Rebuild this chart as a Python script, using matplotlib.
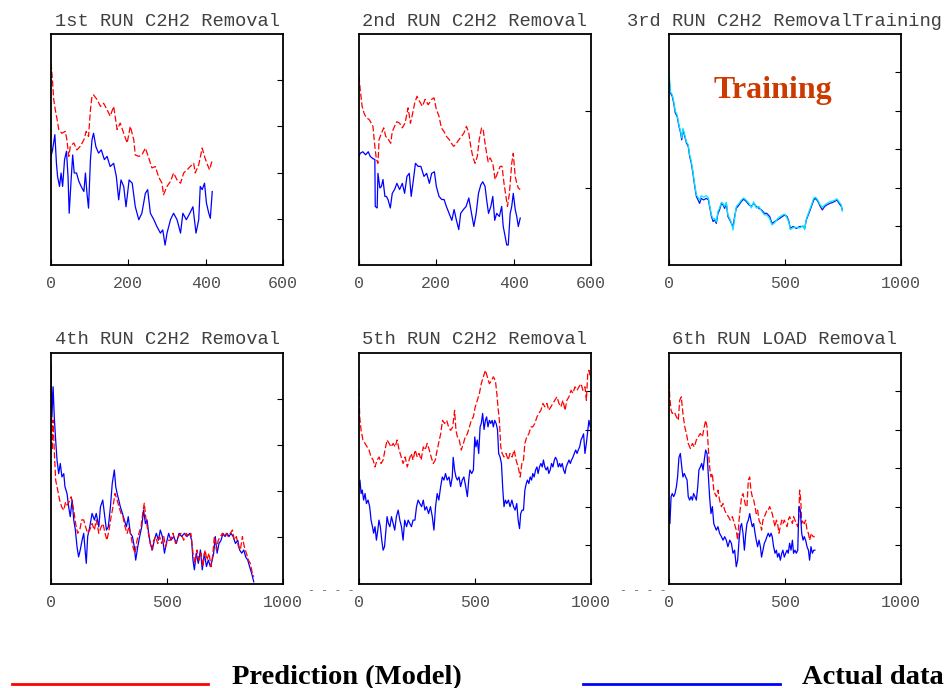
import matplotlib
matplotlib.use("Agg")
import matplotlib.pyplot as plt
from matplotlib.lines import Line2D

# values, (x, y) pairs
run1_pred = [(0, 4.37), (3, 4.08), (7, 3.58), (11, 3.36), (16, 3.14), (20, 2.93), (28, 2.85), (37, 2.89),
             (41, 2.71), (46, 2.35), (50, 2.57), (59, 2.64), (67, 2.49), (76, 2.57), (85, 2.71), (91, 2.89),
             (97, 2.78), (102, 3.36), (106, 3.65), (110, 3.68), (119, 3.58), (128, 3.43), (136, 3.50),
             (145, 3.36), (153, 3.22), (162, 3.43), (171, 2.93), (179, 3.07), (188, 2.85), (197, 2.64),
             (205, 3.00), (214, 2.71), (218, 2.38), (227, 2.35), (235, 2.38), (244, 2.53), (253, 2.31),
             (261, 2.10), (270, 2.13), (278, 1.91), (287, 1.77), (291, 1.52), (300, 1.70), (309, 1.81),
             (317, 1.99), (326, 1.84), (335, 1.77), (343, 1.99), (352, 2.06), (360, 2.13), (369, 2.20),
             (373, 1.99), (382, 2.17), (391, 2.53), (397, 2.35), (403, 2.20), (410, 2.06), (416, 2.24)]
run1_act = [(0, 2.35), (4, 2.49), (10, 2.82), (14, 2.20), (17, 1.91), (22, 1.70), (26, 1.99), (30, 1.70),
            (35, 2.28), (40, 2.46), (44, 1.91), (47, 1.12), (52, 1.84), (56, 2.38), (60, 1.99), (66, 1.99),
            (72, 1.81), (78, 1.70), (85, 1.59), (89, 1.99), (93, 1.55), (97, 1.23), (102, 2.28), (106, 2.71),
            (110, 2.85), (116, 2.56), (123, 2.42), (130, 2.49), (138, 2.28), (145, 2.35), (153, 2.13),
            (162, 2.20), (169, 1.91), (175, 1.41), (181, 1.84), (188, 1.70), (194, 1.26), (202, 1.84),
            (210, 1.77), (218, 1.26), (227, 0.98), (235, 1.12), (244, 1.55), (250, 1.63), (257, 1.12),
            (266, 0.98), (274, 0.83), (283, 0.69), (289, 0.76), (295, 0.43), (300, 0.69), (309, 0.98),
            (317, 1.12), (326, 0.98), (335, 0.69), (341, 1.12), (350, 0.98), (359, 1.12), (367, 1.26),
            (375, 0.69), (382, 0.98), (386, 1.70), (391, 1.63), (397, 1.77), (402, 1.34), (408, 1.12),
            (412, 1.01), (417, 1.59)]

run2_pred = [(0, 2.45), (3, 2.28), (8, 2.06), (13, 1.97), (19, 1.91), (26, 1.89), (32, 1.84), (36, 1.80),
             (41, 1.54), (45, 1.37), (49, 1.32), (52, 1.63), (58, 1.71), (64, 1.78), (69, 1.67), (76, 1.63),
             (82, 1.58), (86, 1.73), (92, 1.80), (98, 1.86), (105, 1.84), (112, 1.78), (119, 1.84), (127, 2.04),
             (133, 1.84), (138, 1.95), (144, 2.10), (150, 2.19), (157, 2.12), (164, 2.06), (171, 2.15),
             (179, 2.08), (188, 2.15), (194, 2.17), (200, 2.02), (207, 1.93), (213, 1.78), (220, 1.73),
             (226, 1.67), (233, 1.63), (239, 1.58), (245, 1.54), (252, 1.58), (259, 1.63), (265, 1.67),
             (271, 1.71), (278, 1.80), (284, 1.71), (289, 1.54), (294, 1.41), (300, 1.32), (306, 1.41),
             (311, 1.63), (317, 1.78), (321, 1.76), (326, 1.58), (330, 1.45), (334, 1.34), (339, 1.39),
             (346, 1.32), (352, 1.11), (358, 1.19), (365, 1.28), (370, 1.28), (375, 1.06), (380, 0.89),
             (384, 0.76), (389, 0.93), (395, 1.32), (399, 1.45), (404, 1.15), (408, 1.06), (412, 1.00),
             (417, 0.98)]
run2_act = [(0, 1.41), (3, 1.45), (10, 1.47), (17, 1.43), (24, 1.47), (29, 1.41), (36, 1.38), (41, 1.37),
            (42, 0.76), (47, 0.74), (49, 1.19), (54, 1.00), (58, 1.02), (62, 1.11), (67, 0.89), (71, 0.89),
            (75, 0.85), (81, 0.74), (86, 0.93), (92, 0.98), (98, 1.06), (105, 0.98), (112, 1.06), (118, 0.93),
            (124, 1.15), (130, 1.19), (135, 0.89), (140, 1.08), (146, 1.32), (153, 1.28), (160, 1.28),
            (168, 1.15), (175, 1.19), (182, 1.06), (188, 1.19), (195, 1.21), (200, 1.02), (207, 0.89),
            (214, 0.85), (220, 0.85), (226, 0.76), (233, 0.67), (240, 0.58), (246, 0.72), (252, 0.58),
            (258, 0.46), (263, 0.67), (270, 0.72), (277, 0.76), (284, 0.87), (291, 0.67), (297, 0.50),
            (303, 0.67), (309, 0.93), (315, 1.04), (320, 1.08), (326, 1.02), (330, 0.85), (335, 0.67),
            (341, 0.76), (346, 0.89), (351, 0.58), (356, 0.67), (363, 0.63), (369, 0.76), (373, 0.50),
            (378, 0.37), (382, 0.26), (386, 0.26), (391, 0.67), (395, 0.76), (399, 0.93), (404, 0.72),
            (408, 0.63), (412, 0.50), (417, 0.61)]

run3_act = [(0, 4.90), (6, 4.47), (14, 4.38), (20, 4.21), (27, 3.95), (35, 3.86), (43, 3.60), (50, 3.43),
            (55, 3.25), (60, 3.51), (68, 3.34), (75, 3.17), (83, 3.08), (89, 2.82), (96, 2.65), (103, 2.39),
            (111, 2.04), (118, 1.78), (125, 1.69), (132, 1.60), (139, 1.73), (149, 1.69), (161, 1.73),
            (170, 1.69), (175, 1.52), (183, 1.26), (190, 1.13), (197, 1.17), (204, 1.08), (211, 1.34),
            (218, 1.43), (226, 1.60), (233, 1.56), (240, 1.47), (247, 1.60), (254, 1.26), (262, 1.17),
            (269, 1.08), (276, 1.00), (283, 1.26), (290, 1.47), (302, 1.56), (312, 1.65), (322, 1.71),
            (333, 1.65), (345, 1.56), (355, 1.52), (365, 1.60), (376, 1.52), (388, 1.47), (399, 1.43),
            (412, 1.34), (422, 1.34), (434, 1.26), (444, 1.08), (456, 1.13), (467, 1.17), (477, 1.21),
            (489, 1.26), (499, 1.30), (509, 1.26), (517, 1.13), (523, 0.95), (535, 1.00), (549, 0.95),
            (563, 1.00), (578, 1.00), (585, 0.95), (592, 1.17), (603, 1.34), (614, 1.52), (624, 1.69),
            (632, 1.73), (642, 1.65), (652, 1.52), (661, 1.43), (671, 1.52), (681, 1.56), (693, 1.60),
            (704, 1.62), (714, 1.65), (724, 1.69), (733, 1.60), (743, 1.52), (747, 1.43)]
run3_train = [(0, 5.03), (6, 4.50), (14, 4.42), (20, 4.26), (27, 4.00), (35, 3.90), (43, 3.64), (50, 3.47),
              (55, 3.30), (60, 3.55), (68, 3.38), (75, 3.20), (83, 3.12), (89, 2.86), (96, 2.70), (103, 2.44),
              (111, 2.09), (118, 1.82), (125, 1.76), (132, 1.69), (139, 1.80), (149, 1.76), (161, 1.80),
              (170, 1.74), (175, 1.56), (183, 1.30), (190, 1.20), (197, 1.21), (204, 1.12), (211, 1.39),
              (218, 1.48), (226, 1.63), (233, 1.60), (240, 1.52), (247, 1.63), (254, 1.30), (262, 1.20),
              (269, 1.10), (276, 0.91), (283, 1.20), (290, 1.52), (302, 1.60), (312, 1.69), (322, 1.74),
              (333, 1.68), (345, 1.60), (355, 1.48), (365, 1.64), (376, 1.48), (388, 1.52), (399, 1.40),
              (412, 1.30), (422, 1.30), (434, 1.20), (444, 1.04), (456, 1.10), (467, 1.20), (477, 1.25),
              (489, 1.30), (499, 1.32), (509, 1.22), (517, 1.10), (523, 0.92), (535, 0.97), (549, 0.98),
              (563, 0.96), (578, 1.02), (585, 0.92), (592, 1.20), (603, 1.38), (614, 1.56), (624, 1.74),
              (632, 1.76), (642, 1.68), (652, 1.56), (661, 1.50), (671, 1.56), (681, 1.60), (693, 1.64),
              (704, 1.66), (714, 1.68), (724, 1.72), (733, 1.64), (743, 1.56), (747, 1.40)]

run4_pred = [(0, 4.76), (4, 2.89), (9, 3.54), (14, 2.89), (20, 2.24), (29, 2.02), (37, 1.81), (46, 1.66),
             (55, 1.59), (63, 1.77), (70, 1.70), (78, 1.77), (87, 1.88), (98, 1.59), (106, 1.30), (115, 1.09),
             (124, 1.16), (132, 1.38), (141, 1.38), (149, 1.23), (158, 1.09), (167, 1.16), (177, 1.30),
             (187, 1.16), (195, 1.38), (206, 1.09), (216, 1.23), (224, 1.30), (233, 1.09), (241, 0.94),
             (250, 1.16), (259, 1.45), (267, 1.66), (276, 1.95), (285, 1.81), (293, 1.66), (302, 1.52),
             (310, 1.45), (319, 1.23), (328, 1.09), (336, 1.23), (345, 1.02), (353, 0.80), (362, 0.66),
             (371, 0.94), (379, 1.09), (388, 1.23), (397, 1.59), (402, 1.74), (408, 1.45), (417, 1.16),
             (425, 0.94), (434, 0.73), (443, 0.94), (451, 1.02), (460, 0.87), (468, 1.02), (477, 0.87),
             (486, 1.02), (494, 0.80), (503, 0.94), (514, 0.94), (526, 1.09), (537, 0.87), (549, 1.02),
             (560, 1.09), (572, 0.94), (583, 1.09), (595, 1.02), (603, 1.09), (612, 0.66), (621, 0.44),
             (629, 0.73), (638, 0.51), (647, 0.66), (655, 0.37), (664, 0.73), (672, 0.51), (681, 0.66),
             (690, 0.37), (698, 0.66), (704, 1.02), (713, 0.73), (721, 0.94), (730, 1.02), (739, 1.09),
             (747, 1.02), (756, 1.09), (764, 1.02), (773, 1.09), (782, 1.16), (790, 0.94), (799, 1.02),
             (808, 0.80), (816, 0.73), (825, 1.02), (833, 0.80), (842, 0.66), (851, 0.51), (859, 0.44),
             (868, 0.22), (874, 0.15)]
run4_act = [(0, 4.76), (4, 3.61), (9, 4.26), (14, 3.61), (20, 3.11), (26, 2.67), (33, 2.38), (40, 2.60),
            (47, 2.31), (55, 2.38), (60, 2.10), (69, 1.95), (76, 1.66), (83, 1.45), (91, 1.81), (98, 1.38),
            (105, 1.16), (112, 0.80), (119, 0.58), (126, 0.73), (134, 0.94), (141, 1.09), (148, 0.66),
            (152, 0.44), (158, 1.02), (167, 1.23), (177, 1.52), (187, 1.38), (195, 1.52), (206, 1.23),
            (213, 1.66), (223, 1.81), (230, 1.52), (239, 1.16), (247, 1.23), (256, 1.66), (264, 2.17),
            (273, 2.46), (279, 2.10), (285, 1.95), (292, 1.81), (299, 1.66), (308, 1.52), (316, 1.38),
            (325, 1.23), (333, 1.45), (342, 1.09), (351, 1.02), (359, 0.80), (365, 0.51), (374, 0.80),
            (382, 1.02), (391, 1.23), (399, 1.59), (407, 1.30), (414, 1.38), (421, 1.09), (428, 0.87),
            (437, 0.73), (445, 0.94), (454, 1.09), (463, 0.94), (471, 1.16), (480, 1.02), (489, 0.66),
            (497, 0.87), (507, 1.09), (517, 0.94), (529, 1.02), (540, 0.87), (552, 1.09), (563, 1.02),
            (575, 1.09), (586, 1.02), (598, 1.09), (606, 0.94), (612, 0.51), (618, 0.30), (626, 0.66),
            (635, 0.44), (644, 0.73), (652, 0.30), (661, 0.66), (670, 0.37), (678, 0.51), (687, 0.37),
            (695, 0.51), (701, 0.66), (708, 1.02), (716, 0.66), (724, 0.87), (733, 0.94), (741, 1.09),
            (750, 1.02), (759, 1.09), (767, 1.02), (776, 1.09), (785, 1.02), (795, 0.87), (805, 0.94),
            (813, 0.73), (822, 0.66), (831, 0.73), (839, 0.58), (848, 0.51), (856, 0.37), (865, 0.22),
            (874, 0.04)]

run5_pred = [(0, 5.02), (3, 4.33), (9, 3.98), (17, 3.73), (26, 3.64), (35, 3.55), (43, 3.47), (52, 3.29),
             (61, 3.21), (69, 3.03), (78, 3.21), (87, 3.29), (95, 3.12), (104, 3.21), (112, 3.47), (121, 3.73),
             (130, 3.64), (138, 3.55), (147, 3.64), (156, 3.55), (164, 3.73), (173, 3.47), (182, 3.29),
             (190, 3.12), (199, 3.29), (208, 3.03), (216, 3.21), (225, 3.38), (233, 3.21), (242, 3.47),
             (251, 3.29), (259, 3.38), (268, 3.21), (277, 3.55), (285, 3.47), (294, 3.64), (303, 3.47),
             (311, 3.29), (320, 3.12), (329, 3.21), (334, 3.38), (343, 3.64), (352, 3.89), (360, 4.24),
             (369, 4.16), (378, 4.24), (386, 4.07), (395, 3.98), (404, 4.07), (412, 4.50), (418, 3.98),
             (424, 3.81), (432, 3.73), (441, 3.47), (450, 3.64), (458, 3.81), (467, 3.89), (476, 4.07),
             (484, 4.24), (493, 4.33), (501, 4.59), (510, 4.76), (519, 4.94), (527, 5.19), (536, 5.37),
             (545, 5.54), (553, 5.37), (562, 5.19), (571, 5.27), (579, 5.37), (588, 5.27), (594, 4.94),
             (599, 4.59), (605, 4.24), (611, 3.55), (617, 3.38), (625, 3.29), (634, 3.38), (643, 3.21),
             (651, 3.38), (660, 3.29), (669, 3.47), (677, 3.21), (686, 3.03), (695, 2.77), (702, 3.12),
             (709, 3.21), (715, 3.64), (723, 3.81), (732, 3.89), (741, 4.07), (749, 4.07), (758, 4.16),
             (767, 4.33), (775, 4.42), (784, 4.50), (793, 4.68), (801, 4.59), (810, 4.68), (818, 4.50),
             (827, 4.59), (836, 4.68), (844, 4.76), (853, 4.85), (862, 4.68), (870, 4.59), (879, 4.76),
             (888, 4.50), (896, 4.76), (905, 4.85), (914, 5.02), (922, 4.94), (931, 5.11), (940, 5.02),
             (948, 5.11), (957, 5.19), (965, 5.02), (974, 5.11), (980, 4.76), (986, 5.45), (991, 5.54),
             (997, 5.37)]
run5_act = [(0, 2.52), (4, 2.69), (9, 2.34), (14, 2.43), (20, 2.17), (26, 2.34), (32, 2.08), (39, 2.17),
            (46, 2.00), (52, 1.65), (58, 1.48), (63, 1.31), (69, 1.48), (75, 1.13), (81, 1.39), (86, 1.65),
            (92, 1.48), (98, 1.13), (104, 0.87), (110, 0.96), (115, 1.31), (121, 1.74), (127, 1.56),
            (133, 1.48), (140, 1.74), (147, 1.56), (154, 1.39), (161, 1.74), (169, 1.91), (176, 1.65),
            (183, 1.48), (190, 1.13), (197, 1.65), (205, 1.48), (212, 1.65), (219, 1.56), (226, 1.48),
            (233, 1.65), (241, 1.65), (248, 2.00), (255, 2.17), (262, 2.08), (270, 2.00), (277, 2.17),
            (284, 1.91), (291, 2.00), (300, 1.82), (308, 2.00), (316, 1.74), (323, 1.39), (330, 2.00),
            (337, 2.34), (344, 2.17), (352, 2.52), (359, 2.77), (366, 2.69), (373, 2.86), (380, 2.69),
            (388, 2.77), (395, 2.52), (402, 2.77), (406, 3.28), (412, 2.95), (418, 2.77), (424, 2.69),
            (431, 2.77), (438, 2.52), (445, 2.69), (452, 2.77), (460, 2.52), (467, 2.26), (473, 2.69),
            (478, 2.95), (486, 2.86), (493, 2.95), (499, 3.81), (504, 3.55), (510, 3.73), (516, 3.38),
            (522, 4.07), (527, 4.16), (533, 4.42), (539, 4.00), (545, 4.24), (550, 4.33), (556, 4.07),
            (562, 4.24), (568, 4.16), (574, 4.24), (579, 4.07), (585, 4.24), (591, 4.16), (597, 4.00),
            (602, 3.38), (608, 3.29), (614, 3.12), (620, 2.43), (625, 2.00), (631, 2.17), (637, 2.08),
            (644, 2.17), (651, 2.00), (659, 2.17), (666, 2.00), (673, 1.91), (680, 2.08), (686, 1.65),
            (692, 1.43), (697, 1.82), (703, 1.91), (709, 1.91), (715, 2.43), (721, 2.60), (726, 2.69),
            (732, 2.60), (738, 2.77), (744, 2.69), (749, 2.86), (755, 2.77), (761, 2.95), (767, 3.03),
            (772, 2.86), (778, 3.03), (784, 3.12), (790, 3.03), (795, 3.21), (801, 3.03), (807, 2.95),
            (813, 3.03), (818, 2.86), (824, 2.95), (830, 3.12), (836, 3.03), (842, 3.21), (847, 3.28),
            (853, 3.21), (859, 3.03), (865, 3.12), (870, 3.03), (876, 3.12), (882, 2.95), (888, 2.86),
            (893, 3.03), (899, 3.12), (905, 3.21), (911, 3.12), (916, 3.21), (922, 3.28), (928, 3.38),
            (934, 3.47), (940, 3.38), (945, 3.47), (951, 3.55), (957, 3.73), (963, 3.81), (968, 3.89),
            (974, 3.38), (980, 3.64), (986, 3.98), (991, 4.24), (997, 4.07)]

run6_pred = [(0, 5.45), (3, 4.85), (9, 4.50), (14, 4.42), (23, 4.46), (32, 4.33), (40, 4.24), (46, 4.76),
             (53, 4.85), (60, 4.42), (68, 4.07), (75, 3.90), (83, 3.64), (92, 3.51), (101, 3.64), (109, 3.55),
             (118, 3.73), (126, 3.81), (135, 3.90), (144, 3.81), (152, 4.07), (158, 4.24), (164, 4.07),
             (170, 3.47), (175, 3.03), (181, 2.77), (187, 2.86), (193, 2.43), (198, 2.34), (204, 2.26),
             (211, 2.43), (218, 2.17), (226, 2.00), (233, 2.08), (240, 1.91), (247, 1.82), (256, 1.74),
             (264, 1.65), (273, 1.74), (282, 1.56), (290, 1.39), (296, 1.13), (302, 1.65), (308, 2.00),
             (313, 2.26), (319, 2.34), (325, 2.17), (331, 2.00), (336, 2.00), (342, 2.69), (348, 2.77),
             (353, 2.43), (359, 2.26), (365, 2.17), (371, 2.00), (376, 1.82), (382, 1.91), (388, 1.65),
             (394, 1.56), (399, 1.39), (405, 1.65), (411, 1.74), (417, 1.82), (422, 1.91), (428, 1.91),
             (434, 2.00), (440, 1.91), (445, 1.82), (451, 1.65), (457, 1.48), (463, 1.65), (468, 1.56),
             (474, 1.31), (480, 1.48), (486, 1.65), (491, 1.56), (497, 1.65), (503, 1.56), (509, 1.48),
             (514, 1.65), (520, 1.74), (526, 1.65), (532, 1.56), (537, 1.74), (543, 1.65), (549, 1.56),
             (555, 1.48), (560, 1.74), (563, 2.43), (568, 2.17), (572, 1.56), (578, 1.65), (583, 1.56),
             (589, 1.65), (595, 1.39), (601, 1.31), (606, 1.13), (614, 1.31), (621, 1.22), (628, 1.22)]
run6_act = [(0, 1.91), (4, 1.56), (9, 2.26), (14, 2.34), (20, 2.26), (26, 2.34), (32, 2.52), (37, 2.77),
            (43, 3.28), (49, 3.38), (55, 3.03), (60, 2.77), (66, 2.86), (72, 2.77), (78, 2.69), (83, 2.26),
            (89, 2.17), (95, 2.26), (101, 2.17), (106, 2.34), (112, 2.26), (118, 2.17), (124, 2.52),
            (129, 2.95), (135, 3.03), (141, 3.12), (147, 2.95), (152, 3.21), (158, 3.47), (164, 3.38),
            (170, 2.77), (175, 2.26), (181, 1.82), (187, 2.00), (193, 1.56), (198, 1.48), (204, 1.39),
            (211, 1.48), (218, 1.31), (226, 1.22), (233, 1.13), (240, 1.22), (247, 1.13), (254, 0.96),
            (262, 1.13), (269, 1.05), (276, 0.79), (283, 0.87), (290, 0.44), (296, 0.61), (302, 1.13),
            (308, 1.48), (313, 1.56), (319, 1.31), (325, 0.87), (331, 1.31), (336, 1.56), (342, 1.65),
            (348, 1.82), (353, 1.65), (359, 1.48), (365, 1.56), (371, 1.31), (376, 1.13), (382, 0.96),
            (388, 1.13), (394, 0.96), (399, 0.69), (405, 0.87), (411, 1.05), (417, 1.13), (422, 1.22),
            (428, 1.31), (434, 1.22), (440, 1.31), (445, 1.22), (451, 0.96), (457, 0.79), (463, 0.87),
            (468, 0.69), (474, 0.79), (480, 0.61), (486, 0.79), (491, 0.87), (497, 0.69), (503, 0.79),
            (509, 0.87), (514, 0.79), (520, 1.05), (526, 0.87), (532, 1.13), (537, 0.79), (543, 0.87),
            (549, 0.79), (555, 0.87), (560, 2.00), (566, 1.91), (572, 1.31), (578, 1.13), (583, 1.22),
            (589, 1.13), (595, 0.96), (601, 0.87), (606, 0.61), (612, 0.96), (618, 0.79), (624, 0.87),
            (629, 0.87)]

titles = ["1st RUN C2H2 Removal", "2nd RUN C2H2 Removal", "3rd RUN C2H2 RemovalTraining",
          "4th RUN C2H2 Removal", "5th RUN C2H2 Removal", "6th RUN LOAD Removal"]
x_limits = [600, 600, 1000, 1000, 1000, 1000]
x_ticks = [[0, 200, 400, 600], [0, 200, 400, 600], [0, 500, 1000], [0, 500, 1000], [0, 500, 1000], [0, 500, 1000]]
y_tops = [5, 3, 6, 5, 6, 6]

# (series, colour, linestyle) for each panel
panels = [
    [(run1_pred, "#ff0000", (0, (5, 2))), (run1_act, "#0000ff", "-")],
    [(run2_pred, "#ff0000", (0, (5, 2))), (run2_act, "#0000ff", "-")],
    [(run3_act, "#1010ee", "-"), (run3_train, "#00e8ff", "-")],
    [(run4_act, "#0000ff", "-"), (run4_pred, "#ff0000", (0, (5, 2)))],
    [(run5_pred, "#ff0000", (0, (5, 2))), (run5_act, "#0000ff", "-")],
    [(run6_pred, "#ff0000", (0, (5, 2))), (run6_act, "#0000ff", "-")],
]

mono = "Liberation Mono"
fig = plt.figure(figsize=(9.5, 6.88), dpi=100)
lefts = [0.0537, 0.3779, 0.7042]
bottoms = [0.6148, 0.1516]

for i in range(6):
    ax = fig.add_axes([lefts[i % 3], bottoms[i // 3], 0.2442, 0.3360])
    for data, col, ls in panels[i]:
        xs, ys = zip(*data)
        ax.plot(xs, ys, color=col, linestyle=ls, linewidth=0.9)
    ax.set_xlim(0, x_limits[i])
    ax.set_ylim(0, y_tops[i])
    ax.set_xticks(x_ticks[i])
    ax.set_yticks(range(1, y_tops[i]))
    ax.tick_params(axis="y", left=False, right=True, labelleft=False, direction="in", length=4, width=0.8)
    ax.tick_params(axis="x", direction="in", length=4, width=0.8, pad=8, labelsize=12, labelcolor="#505050")
    for lab in ax.get_xticklabels():
        lab.set_family(mono)
    for sp in ax.spines.values():
        sp.set_linewidth(1.3)
    ax.set_title(titles[i], fontsize=13.5, family=mono, color="#404040", pad=6)
    if i == 2:
        ax.text(0.45, 0.755, "Training", transform=ax.transAxes, ha="center", va="center",
                fontsize=23, fontweight="bold", family="Liberation Serif", color="#cc3a00")

# legend along the bottom edge
fig.add_artist(Line2D([0.013, 0.219], [0.006, 0.006], color="#ff0000", linewidth=2))
fig.add_artist(Line2D([0.614, 0.821], [0.006, 0.006], color="#0000ff", linewidth=2))
fig.text(0.244, 0.006, "Prediction (Model)", fontsize=20.5, fontweight="bold", family="Liberation Serif", va="baseline")
fig.text(0.844, 0.006, "Actual data", fontsize=20.5, fontweight="bold", family="Liberation Serif", va="baseline")

# stray dash marks between the lower panels
fig.text(0.324, 0.142, "- - - -", fontsize=8, family=mono, color="#555555", va="center")
fig.text(0.653, 0.142, "- - - -", fontsize=8, family=mono, color="#555555", va="center")

fig.savefig("out.png", dpi=100)
